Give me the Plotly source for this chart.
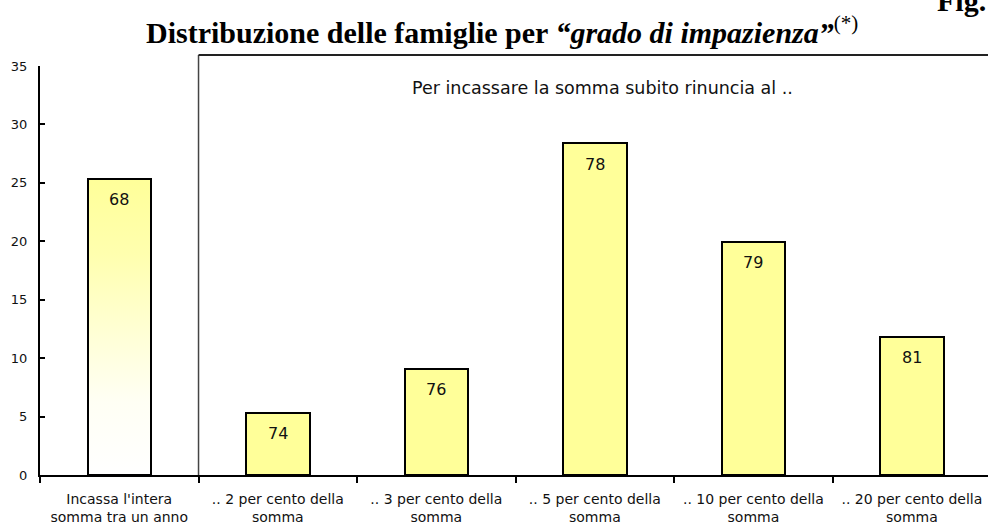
import plotly.graph_objects as go

# ---- data ----
categories = [
    "Incassa l'intera<br>somma tra un anno",
    ".. 2 per cento della<br>somma",
    ".. 3 per cento della<br>somma",
    ".. 5 per cento della<br>somma",
    ".. 10 per cento della<br>somma",
    ".. 20 per cento della<br>somma",
]
values = [25.35, 5.33, 9.1, 28.4, 19.95, 11.83]
bar_labels = ["68", "74", "76", "78", "79", "81"]
y_ticks = [0, 5, 10, 15, 20, 25, 30, 35]
box_caption = "Per incassare la somma subito rinuncia al .."
title_text = ("<b>Distribuzione delle famiglie per <i>\u201cgrado di impazienza\u201d</i></b>"
              "<sup>(*)</sup>")
fig_label = "<b>Fig.</b>"

# ---- layout constants ----
W, H = 988, 526
ML, MR, MT, MB = 40, 0, 66, 51
PW, PH = W - ML - MR, H - MT - MB
bar_width = 0.4
x_range = [-0.5, 5.48]
y_range = [0, 35]
yellow = "#FFFF99"

positions = list(range(len(categories)))
half = bar_width / 2

fig = go.Figure()

# gradient fill for first bar (base axes, drawn below the bar layer)
p0 = positions[0]
fig.add_trace(go.Scatter(
    x=[p0 - half, p0 + half, p0 + half, p0 - half, p0 - half],
    y=[0, 0, values[0], values[0], 0],
    fill="toself", mode="lines", line=dict(width=0, color="rgba(0,0,0,0)"),
    fillgradient=dict(type="vertical",
                      colorscale=[[0, "#FFFFFF"], [0.25, "#FFFFF4"], [0.5, "#FFFFD2"],
                                  [0.75, "#FFFFAE"], [1, yellow]],
                      start=0, stop=values[0]),
    hoverinfo="skip", showlegend=False, xaxis="x", yaxis="y"))

colors = ["rgba(0,0,0,0)"] + [yellow] * (len(values) - 1)
fig.add_trace(go.Bar(
    x=positions, y=values, width=bar_width,
    marker=dict(color=colors, line=dict(color="black", width=2)),
    showlegend=False, hoverinfo="skip", xaxis="x2", yaxis="y2"))

annotations = []
for p, v, lab in zip(positions, values, bar_labels):
    annotations.append(dict(x=p, y=v, xref="x2", yref="y2", text=lab, showarrow=False,
                            yshift=-21, font=dict(family="DejaVu Sans", size=16, color="#111")))

annotations.append(dict(x=(602 - ML) / PW, y=1 - (88 - MT) / PH,
                        xref="paper", yref="paper", text=box_caption, showarrow=False,
                        xanchor="center", yanchor="middle",
                        font=dict(family="DejaVu Sans", size=17.5, color="#111")))
annotations.append(dict(x=(502 - ML) / PW, y=1 + (MT - 30) / PH,
                        xref="paper", yref="paper", text=title_text, showarrow=False,
                        xanchor="center", yanchor="middle",
                        font=dict(family="Liberation Serif", size=30, color="black")))
annotations.append(dict(x=(935 - ML) / PW, y=1 + (MT - 1) / PH,
                        xref="paper", yref="paper", text=fig_label, showarrow=False,
                        xanchor="left", yanchor="middle",
                        font=dict(family="Liberation Serif", size=30, color="black")))

top_paper = 1 + (MT - 55) / PH
shapes = [
    dict(type="line", xref="x2", yref="paper", x0=0.5, x1=0.5, y0=0, y1=top_paper,
         line=dict(color="#444", width=1.5)),
    dict(type="line", xref="paper", yref="paper",
         x0=(0.5 - x_range[0]) / (x_range[1] - x_range[0]), x1=1.01,
         y0=top_paper, y1=top_paper, line=dict(color="#222", width=2)),
]

fig.update_layout(
    width=W, height=H, margin=dict(l=ML, r=MR, t=MT, b=MB, autoexpand=False),
    plot_bgcolor="white", paper_bgcolor="white",
    showlegend=False, bargap=0,
    annotations=annotations, shapes=shapes,
    xaxis=dict(range=x_range, visible=False, fixedrange=True, automargin=False),
    yaxis=dict(range=y_range, tickvals=y_ticks, showgrid=False, zeroline=False,
               automargin=False,
               showline=True, linecolor="black", linewidth=2,
               ticks="inside", ticklen=5, tickwidth=2, tickcolor="black",
               ticklabelstandoff=8,
               tickfont=dict(family="DejaVu Sans", size=13, color="#111")),
    xaxis2=dict(range=x_range, overlaying="x", anchor="y2", type="linear",
                automargin=False,
                tickvals=positions, ticktext=categories, ticks="",
                showgrid=False, zeroline=False,
                showline=True, linecolor="black", linewidth=2,
                minor=dict(tickvals=[p - 0.5 for p in positions], ticks="outside",
                           ticklen=6, tickwidth=2, tickcolor="black", showgrid=False),
                ticklabelstandoff=10,
                tickfont=dict(family="DejaVu Sans", size=14, color="#111")),
    yaxis2=dict(range=y_range, overlaying="y", anchor="x2", visible=False, automargin=False),
)

fig.write_html(
    "out.html",
    config={"displayModeBar": False},
    post_script=("document.documentElement.style.overflow='hidden';"
                 "document.body.style.overflow='hidden';"
                 "document.body.style.margin='0';"),
)
